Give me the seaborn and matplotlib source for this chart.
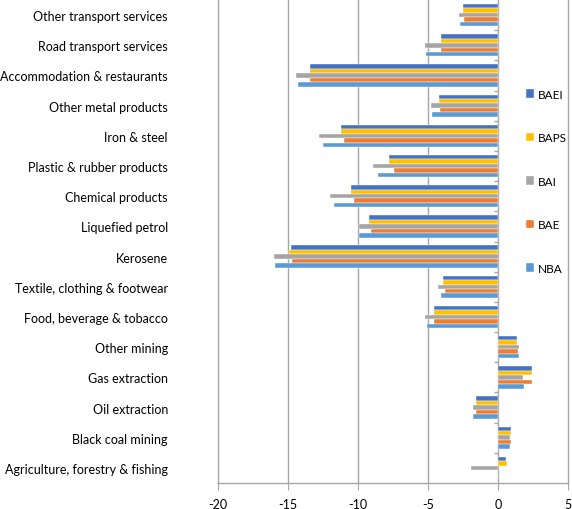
import matplotlib
matplotlib.use("Agg")
import matplotlib.pyplot as plt
import seaborn as sns
import numpy as np
import pandas as pd

sectors = ["Other transport services", "Road transport services", "Accommodation & restaurants",
           "Other metal products", "Iron & steel", "Plastic & rubber products", "Chemical products",
           "Liquefied petrol", "Kerosene", "Textile, clothing & footwear", "Food, beverage & tobacco",
           "Other mining", "Gas extraction", "Oil extraction", "Black coal mining",
           "Agriculture, forestry & fishing"]
scenarios = ["BAEI", "BAPS", "BAI", "BAE", "NBA"]

baei = [-2.5, -4.1, -13.4, -4.2, -11.2, -7.8, -10.5, -9.2, -14.8, -3.9, -4.6, 1.35, 2.4, -1.6, 0.9, 0.55]
baps = [-2.5, -4.1, -13.4, -4.2, -11.2, -7.8, -10.5, -9.2, -14.9, -3.9, -4.6, 1.35, 2.45, -1.6, 0.95, 0.65]
bai = [-2.75, -5.2, -14.4, -4.8, -12.8, -8.9, -12.0, -9.95, -16.0, -4.25, -5.2, 1.5, 1.8, -1.8, 0.85, -1.9]
bae = [-2.4, -4.05, -13.4, -4.15, -11.0, -7.45, -10.3, -9.1, -14.7, -3.8, -4.55, 1.4, 2.45, -1.55, 0.95, 0.0]
nba = [-2.7, -5.15, -14.3, -4.7, -12.5, -8.55, -11.7, -9.9, -15.9, -4.1, -5.1, 1.5, 1.85, -1.75, 0.85, 0.0]

colors = ["#4472C4", "#FFC000", "#A5A5A5", "#ED7D31", "#5B9BD5"]

df = pd.DataFrame({"sector": sectors * 5,
                   "scenario": np.repeat(scenarios, len(sectors)),
                   "value": baei + baps + bai + bae + nba})

plt.rcParams["font.family"] = ["Lato", "DejaVu Sans"]
plt.rcParams["axes.unicode_minus"] = False
fig = plt.figure(figsize=(5.72, 5.10), dpi=100)
ax = fig.add_axes([0.381, 0.051, 0.612, 0.947])

sns.barplot(data=df, x="value", y="sector", hue="scenario", order=sectors, hue_order=scenarios,
            palette=colors, orient="h", width=0.74, edgecolor="white", linewidth=0.3,
            saturation=1, ax=ax, legend=True)

ax.set_xlim(-20, 5)
ax.set_xticks([-20, -15, -10, -5, 0, 5])
ax.set_ylim(15.5, -0.5)
ax.set_xlabel("")
ax.set_ylabel("")
for x in [-15, -10, -5, 0]:
    ax.axvline(x, color="#a6a6a6", lw=1, zorder=0)
# small category tick marks on the zero line
ax.hlines(np.arange(0.5, 15.5, 1), -0.25, 0, color="#a6a6a6", lw=1, zorder=0)

ax.spines["top"].set_visible(False)
for s in ["left", "right", "bottom"]:
    ax.spines[s].set_color("#a6a6a6")
    ax.spines[s].set_linewidth(1)
ax.tick_params(axis="x", colors="#a6a6a6", length=5, labelsize=9, labelcolor="black", pad=6)
ax.tick_params(axis="y", length=0, labelsize=9, pad=36)

leg = ax.legend(loc="center left", bbox_to_anchor=(0.85, 0.625), frameon=False,
                handlelength=0.7, handleheight=0.7, handletextpad=0.3,
                labelspacing=2.75, fontsize=8.5)

fig.savefig("out.png", dpi=100)
